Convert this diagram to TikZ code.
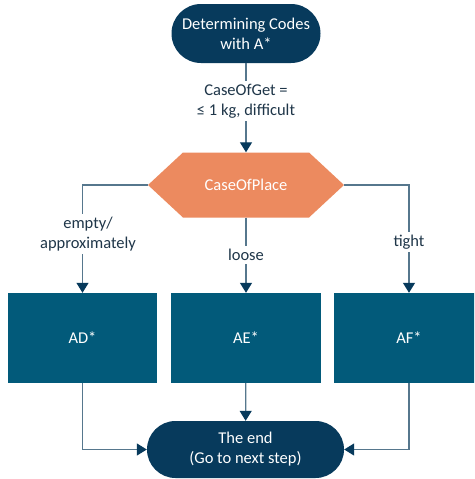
\documentclass[tikz,border=0pt]{standalone}
\usepackage{fontspec}
\setmainfont{Carlito}
\usetikzlibrary{arrows.meta}
\definecolor{navy}{HTML}{073A5C}
\definecolor{teal}{HTML}{025A7A}
\definecolor{hexorange}{HTML}{EC8A5F}
\definecolor{connline}{HTML}{56778D}
\definecolor{lbltext}{HTML}{1F3649}
\tikzset{
  terminal/.style={fill=navy, text=white, align=center, inner sep=0pt},
  procbox/.style={fill=teal, text=white, minimum width=149pt, minimum height=90pt, inner sep=0pt},
  decision/.style={text=white, minimum width=196pt, minimum height=65pt, inner sep=0pt},
  lbl/.style={fill=white, text=lbltext, align=center, inner sep=3pt},
  conn/.style={draw=connline, line width=1.3pt, -{Triangle[length=10pt, width=12pt, fill=navy, color=navy]}},
  plainconn/.style={draw=connline, line width=1.3pt}
}
\begin{document}
\begin{tikzpicture}[x=1pt, y=-1pt, font=\fontsize{16.5}{20}\selectfont]
\clip (0,0) rectangle (474,479);
\fill[white] (0,0) rectangle (474,479);
% hexagon shape
\fill[hexorange] (148,185) -- (183,152.5) -- (309,152.5) -- (344,185) -- (309,217.5) -- (183,217.5) -- cycle;
\node[terminal, minimum width=149pt, minimum height=59pt, rounded corners=29.5pt] (start) at (246,33.5) {Determining Codes\\with A*};
\node[decision] (hex) at (246,185) {CaseOfPlace};
\node[procbox] (AD) at (82.5,338) {AD*};
\node[procbox, minimum width=150pt] (AE) at (246,338) {AE*};
\node[procbox, minimum width=150pt] (AF) at (409,338) {AF*};
\node[terminal, minimum width=197pt, minimum height=57pt, rounded corners=28.5pt] (end) at (245.5,449.5) {The end\\(Go to next step)};
% connectors
\draw[conn] (start) -- (hex);
\draw[conn] (hex.west) -| (AD);
\draw[conn] (hex) -- (AE);
\draw[conn] (hex.east) -| (AF);
\draw[conn] (AD) |- (end);
\draw[conn] (AE) -- (end);
\draw[conn] (AF) |- (end);
% labels
\node[lbl] (l0) at (246,101) {CaseOfGet =\\≤ 1 kg, difficult};
\node[lbl] (l1) at (88,234) {empty/\\approximately};
\node[lbl] (l2) at (246,255) {loose};
\node[lbl] (l3) at (409,242) {tight};
\end{tikzpicture}
\end{document}
